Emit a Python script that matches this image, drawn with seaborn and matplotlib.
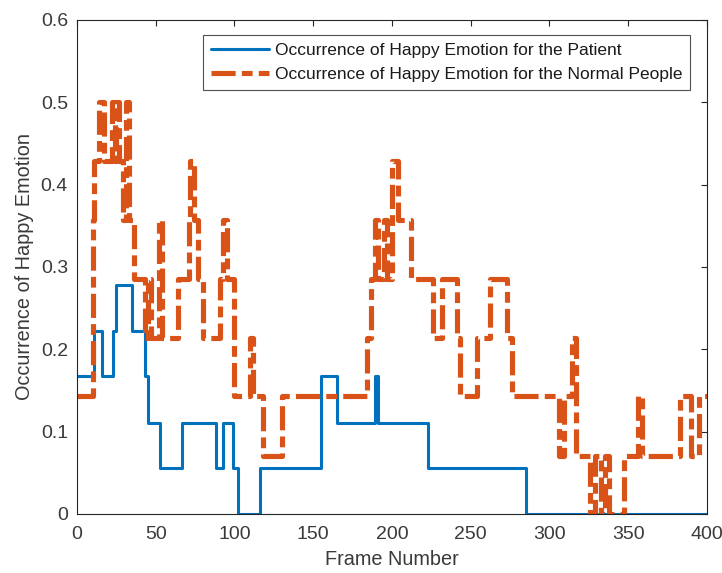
import numpy as np
import pandas as pd
import seaborn as sns
import matplotlib
matplotlib.use("Agg")
import matplotlib.pyplot as plt

# step change points (frame where the new level starts)
patient_frames = [0, 11, 16, 23, 25, 35, 43, 45, 53, 67, 88, 93, 99, 102, 116,
                  155, 165, 189, 191, 223, 285, 400]
patient_occ = [0.167, 0.222, 0.167, 0.222, 0.278, 0.222, 0.167, 0.111, 0.056,
               0.111, 0.056, 0.111, 0.056, 0.0, 0.056, 0.167, 0.111, 0.167,
               0.111, 0.056, 0.0, 0.0]

normal_frames = [0, 10, 11, 14, 17, 22, 24, 25, 27, 29, 31, 33, 36, 43, 45, 47,
                 52, 54, 64, 71, 72, 74, 77, 80, 91, 93, 95, 100, 110, 112, 118,
                 130, 184, 187, 189, 191, 195, 197, 200, 204, 212, 226, 232, 241,
                 243, 254, 262, 273, 276, 306, 309, 314, 317, 326, 329, 333, 335,
                 338, 347, 356, 359, 383, 390, 395, 400]
normal_occ = [0.143, 0.357, 0.429, 0.5, 0.429, 0.5, 0.429, 0.5, 0.429, 0.357,
              0.5, 0.357, 0.286, 0.214, 0.286, 0.214, 0.357, 0.214, 0.286, 0.357,
              0.429, 0.357, 0.286, 0.214, 0.286, 0.357, 0.286, 0.143, 0.214, 0.143,
              0.071, 0.143, 0.214, 0.286, 0.357, 0.286, 0.357, 0.286, 0.429, 0.357,
              0.286, 0.214, 0.286, 0.214, 0.143, 0.214, 0.286, 0.214, 0.143, 0.071,
              0.143, 0.214, 0.071, 0.0, 0.071, 0.0, 0.071, 0.0, 0.071, 0.143,
              0.071, 0.143, 0.071, 0.143, 0.143]

x_ticks = [0, 50, 100, 150, 200, 250, 300, 350, 400]
y_ticks = [0, 0.1, 0.2, 0.3, 0.4, 0.5, 0.6]

patient_df = pd.DataFrame({"frame": patient_frames, "occ": patient_occ})
normal_df = pd.DataFrame({"frame": normal_frames, "occ": normal_occ})

sns.set_style("white")
plt.rcParams['font.family'] = ['Liberation Sans', 'DejaVu Sans']

fig = plt.figure(figsize=(7.22, 5.73), dpi=100)
ax = fig.add_axes([0.1066, 0.103, 0.8726, 0.8621])

sns.lineplot(data=patient_df, x="frame", y="occ", ax=ax, estimator=None, sort=False,
             drawstyle="steps-post", color="#0072BD", linewidth=2.2,
             label="Occurrence of Happy Emotion for the Patient")
sns.lineplot(data=normal_df, x="frame", y="occ", ax=ax, estimator=None, sort=False,
             drawstyle="steps-post", color="#D95319", linewidth=3.7,
             linestyle=(0, (4.7, 1.2, 2.1, 1.2)), dash_capstyle="butt",
             label="Occurrence of Happy Emotion for the Normal People")

ax.set_xlim(0, 400)
ax.set_ylim(0, 0.6)
ax.set_xticks(x_ticks)
ax.set_xticklabels([str(t) for t in x_ticks])
ax.set_yticks(y_ticks)
ax.set_yticklabels(["0", "0.1", "0.2", "0.3", "0.4", "0.5", "0.6"])
ax.set_xlabel("Frame Number", fontsize=14.3, color="#3a3a3a", labelpad=5)
ax.set_ylabel("Occurrence of Happy Emotion", fontsize=14.3, color="#3a3a3a", labelpad=5)

ax.tick_params(direction="in", length=4, width=0.8, colors="#262626",
               labelsize=14, top=True, right=True, labelcolor="#3a3a3a")
ax.tick_params(axis="x", pad=9)
ax.tick_params(axis="y", pad=6.5)
for s in ax.spines.values():
    s.set_visible(True)
    s.set_color("#262626")
    s.set_linewidth(0.8)

leg = ax.legend(loc="upper right", bbox_to_anchor=(0.973, 0.970), fontsize=12.5,
                frameon=True, fancybox=False, edgecolor="#262626",
                handlelength=3.3, handletextpad=0.35, borderpad=0.45,
                labelspacing=0.55, borderaxespad=0)
leg.get_frame().set_linewidth(0.8)
for t in leg.get_texts():
    t.set_color("#1a1a1a")

fig.savefig("out.png", dpi=100)
